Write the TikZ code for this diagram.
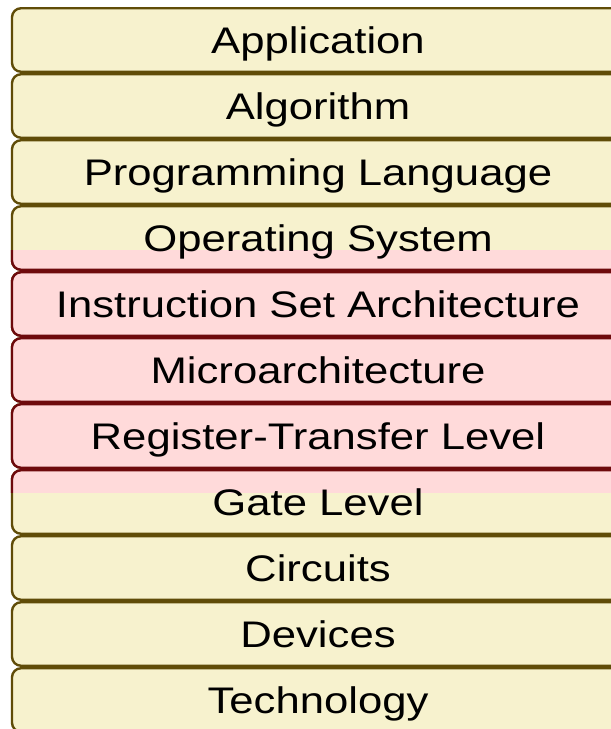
\documentclass[tikz,border=0pt]{standalone}
\usepackage{fontspec}
\setmainfont{Liberation Sans}
\newfontfamily\layerfont[FakeStretch=1.18]{Liberation Sans}
\usetikzlibrary{positioning}
\definecolor{layerCream}{RGB}{247,242,206}
\definecolor{layerBrown}{RGB}{96,76,8}
\definecolor{layerPink}{RGB}{255,218,218}
\definecolor{layerMaroon}{RGB}{110,10,12}

\begin{document}
\begin{tikzpicture}[
  x=1pt,y=1pt,
  layerbox/.style={draw=layerBrown,fill=layerCream,rounded corners=9pt,line width=2.4pt,
    minimum width=612pt,minimum height=63.5pt,inner sep=0pt,outer sep=0pt,
    font=\layerfont\fontsize{37}{40}\selectfont,text height=26.5pt,text depth=0pt},
  hwbox/.style={draw=layerMaroon,fill=layerPink,rounded corners=9pt,line width=2.4pt}
]
  \useasboundingbox (0,0) rectangle (611,-729);

  \node[layerbox] (app)   at (318,-40)  {Application};
  \node[layerbox] (alg)   at (318,-106) {Algorithm};
  \node[layerbox] (lang)  at (318,-172) {Programming Language};
  \node[layerbox] (os)    at (318,-238) {};
  \node[layerbox] (isa)   at (318,-304) {};
  \node[layerbox] (uarch) at (318,-370) {};
  \node[layerbox] (rtl)   at (318,-436) {};
  \node[layerbox] (gate)  at (318,-502) {};
  \node[layerbox] (circ)  at (318,-568) {Circuits};
  \node[layerbox] (dev)   at (318,-634) {Devices};
  \node[layerbox] (tech)  at (318,-700) {Technology};

  % hardware/software interface band
  \begin{scope}
    \clip (0,-250) rectangle (611,-492);
    \foreach \nm in {os,isa,uarch,rtl,gate}
      \draw[hwbox] (\nm.north west) rectangle (\nm.south east);
  \end{scope}

  \node[layerbox,draw=none,fill=none] (ost)   at (os)    {Operating System};
  \node[layerbox,draw=none,fill=none] (isat)  at (isa)   {Instruction Set Architecture};
  \node[layerbox,draw=none,fill=none] (uarcht) at (uarch) {Microarchitecture};
  \node[layerbox,draw=none,fill=none] (rtlt)  at (rtl)   {Register-Transfer Level};
  \node[layerbox,draw=none,fill=none] (gatet) at (gate)  {Gate Level};
\end{tikzpicture}
\end{document}
